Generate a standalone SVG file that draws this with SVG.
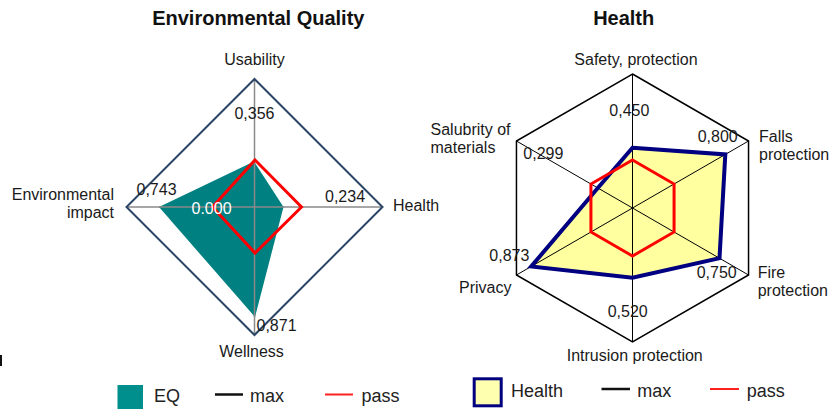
<svg xmlns="http://www.w3.org/2000/svg" width="834" height="409" viewBox="0 0 834 409">
<style>
text{font-family:"Liberation Sans",Arial,sans-serif;fill:#1a1a1a}
.title{font-size:20px;font-weight:bold;text-anchor:middle;fill:#111}
.lbl{font-size:16px}
.mid{text-anchor:middle}
.end{text-anchor:end}
.leg{font-size:18px;fill:#222}
.axisL{stroke:#8a8a8a;stroke-width:1.5;fill:none}
.axisR{stroke:#000;stroke-width:1;fill:none}
.pass{stroke:#ff0000;stroke-width:3;fill:none;stroke-linejoin:miter}
</style>
<rect x="0" y="0" width="834" height="409" fill="#ffffff"/>
<rect x="0" y="355" width="2" height="11" fill="#111"/>

<g id="chart-eq">
  <text class="title" x="258.3" y="25">Environmental Quality</text>
  <g id="eq-frame">
    <line class="axisL" x1="126.5" y1="207" x2="382.5" y2="207"/>
    <line class="axisL" x1="254.5" y1="79" x2="254.5" y2="335"/>
  </g>
  <g id="eq-data">
    <polygon points="254,161.5 283.5,207 255,317 159,207" fill="#008080"/>
  </g>
  <g id="eq-axes-over">
    <line x1="254.5" y1="161.5" x2="254.5" y2="317" stroke="#8a8a8a" stroke-width="1.5"/>
    <line x1="159" y1="207" x2="283.5" y2="207" stroke="#8a8a8a" stroke-width="1.5"/>
  </g>
  <g id="eq-max">
    <polygon points="254.5,79 382.5,207 254.5,335 126.5,207" fill="none" stroke="#2b4566" stroke-width="2"/>
  </g>
  <g id="eq-pass">
    <polygon class="pass" points="255,160 301.5,207 255,253 212.5,207"/>
  </g>
  <g id="eq-labels">
    <text class="lbl mid" x="254.5" y="65">Usability</text>
    <text class="lbl mid" x="254.5" y="119">0,356</text>
    <text class="lbl end" x="114" y="200">Environmental</text>
    <text class="lbl end" x="114" y="218">impact</text>
    <text class="lbl" x="136.5" y="195">0,743</text>
    <text class="lbl" x="191.5" y="213.5" style="fill:#ffffff">0.000</text>
    <text class="lbl" x="325" y="202">0,234</text>
    <text class="lbl" x="393" y="211">Health</text>
    <text class="lbl" x="256.5" y="331">0,871</text>
    <text class="lbl mid" x="251.5" y="357">Wellness</text>
  </g>
</g>

<g id="chart-health">
  <text class="title" x="623.7" y="25">Health</text>
  <g id="h-data">
    <polygon points="632.5,147.7 725.3,154.4 719.5,258.2 632.5,277.7 531.2,266.5 597.8,188" fill="#ffffa0"/>
  </g>
  <g id="h-axes">
    <line class="axisR" x1="632.5" y1="208" x2="632.5" y2="74"/>
    <line class="axisR" x1="632.5" y1="208" x2="748.54" y2="141"/>
    <line class="axisR" x1="632.5" y1="208" x2="748.54" y2="275"/>
    <line class="axisR" x1="632.5" y1="208" x2="632.5" y2="342"/>
    <line class="axisR" x1="632.5" y1="208" x2="516.46" y2="275"/>
    <line class="axisR" x1="632.5" y1="208" x2="516.46" y2="141"/>
  </g>
  <g id="h-max">
    <polygon points="632.5,74 748.54,141 748.54,275 632.5,342 516.46,275 516.46,141" fill="none" stroke="#000" stroke-width="1.5"/>
  </g>
  <g id="h-outline">
    <polygon points="632.5,147.7 725.3,154.4 719.5,258.2 632.5,277.7 531.2,266.5 597.8,188" fill="none" stroke="#000080" stroke-width="4"/>
  </g>
  <g id="h-pass">
    <polygon class="pass" points="632.5,160 674.07,184 674.07,232 632.5,256 590.93,232 590.93,184"/>
  </g>
  <g id="h-labels">
    <text class="lbl mid" x="636" y="65">Safety, protection</text>
    <text class="lbl" x="609.3" y="116">0,450</text>
    <text class="lbl" x="430.5" y="135">Salubrity of</text>
    <text class="lbl" x="430.5" y="153">materials</text>
    <text class="lbl" x="523.3" y="159">0,299</text>
    <text class="lbl" x="697.7" y="141.5">0,800</text>
    <text class="lbl" x="759" y="141.5">Falls</text>
    <text class="lbl" x="759" y="159.5">protection</text>
    <text class="lbl" x="489.3" y="260.5">0,873</text>
    <text class="lbl" x="459" y="293">Privacy</text>
    <text class="lbl" x="696.7" y="277.5">0,750</text>
    <text class="lbl" x="757.7" y="277.5">Fire</text>
    <text class="lbl" x="757.7" y="296">protection</text>
    <text class="lbl" x="607.7" y="317">0,520</text>
    <text class="lbl" x="566.7" y="361">Intrusion protection</text>
  </g>
</g>

<g id="legend-eq">
  <rect x="117.5" y="385" width="25.5" height="24" fill="#008f8c"/>
  <text class="leg" x="154" y="401.5">EQ</text>
  <line x1="215" y1="394.5" x2="243" y2="394.5" stroke="#111" stroke-width="2.5"/>
  <text class="leg" x="250" y="401.5">max</text>
  <line x1="325" y1="394.5" x2="353" y2="394.5" stroke="#ff2020" stroke-width="2"/>
  <text class="leg" x="361.5" y="401.5">pass</text>
</g>

<g id="legend-health">
  <rect x="474.2" y="378.8" width="27" height="27" fill="#ffffb0" stroke="#000080" stroke-width="3"/>
  <text class="leg" x="511" y="396.5">Health</text>
  <line x1="601.5" y1="389" x2="630" y2="389" stroke="#111" stroke-width="2.5"/>
  <text class="leg" x="637.3" y="396.5">max</text>
  <line x1="710" y1="389" x2="739" y2="389" stroke="#ff2020" stroke-width="2"/>
  <text class="leg" x="746.7" y="396.5">pass</text>
</g>
</svg>
